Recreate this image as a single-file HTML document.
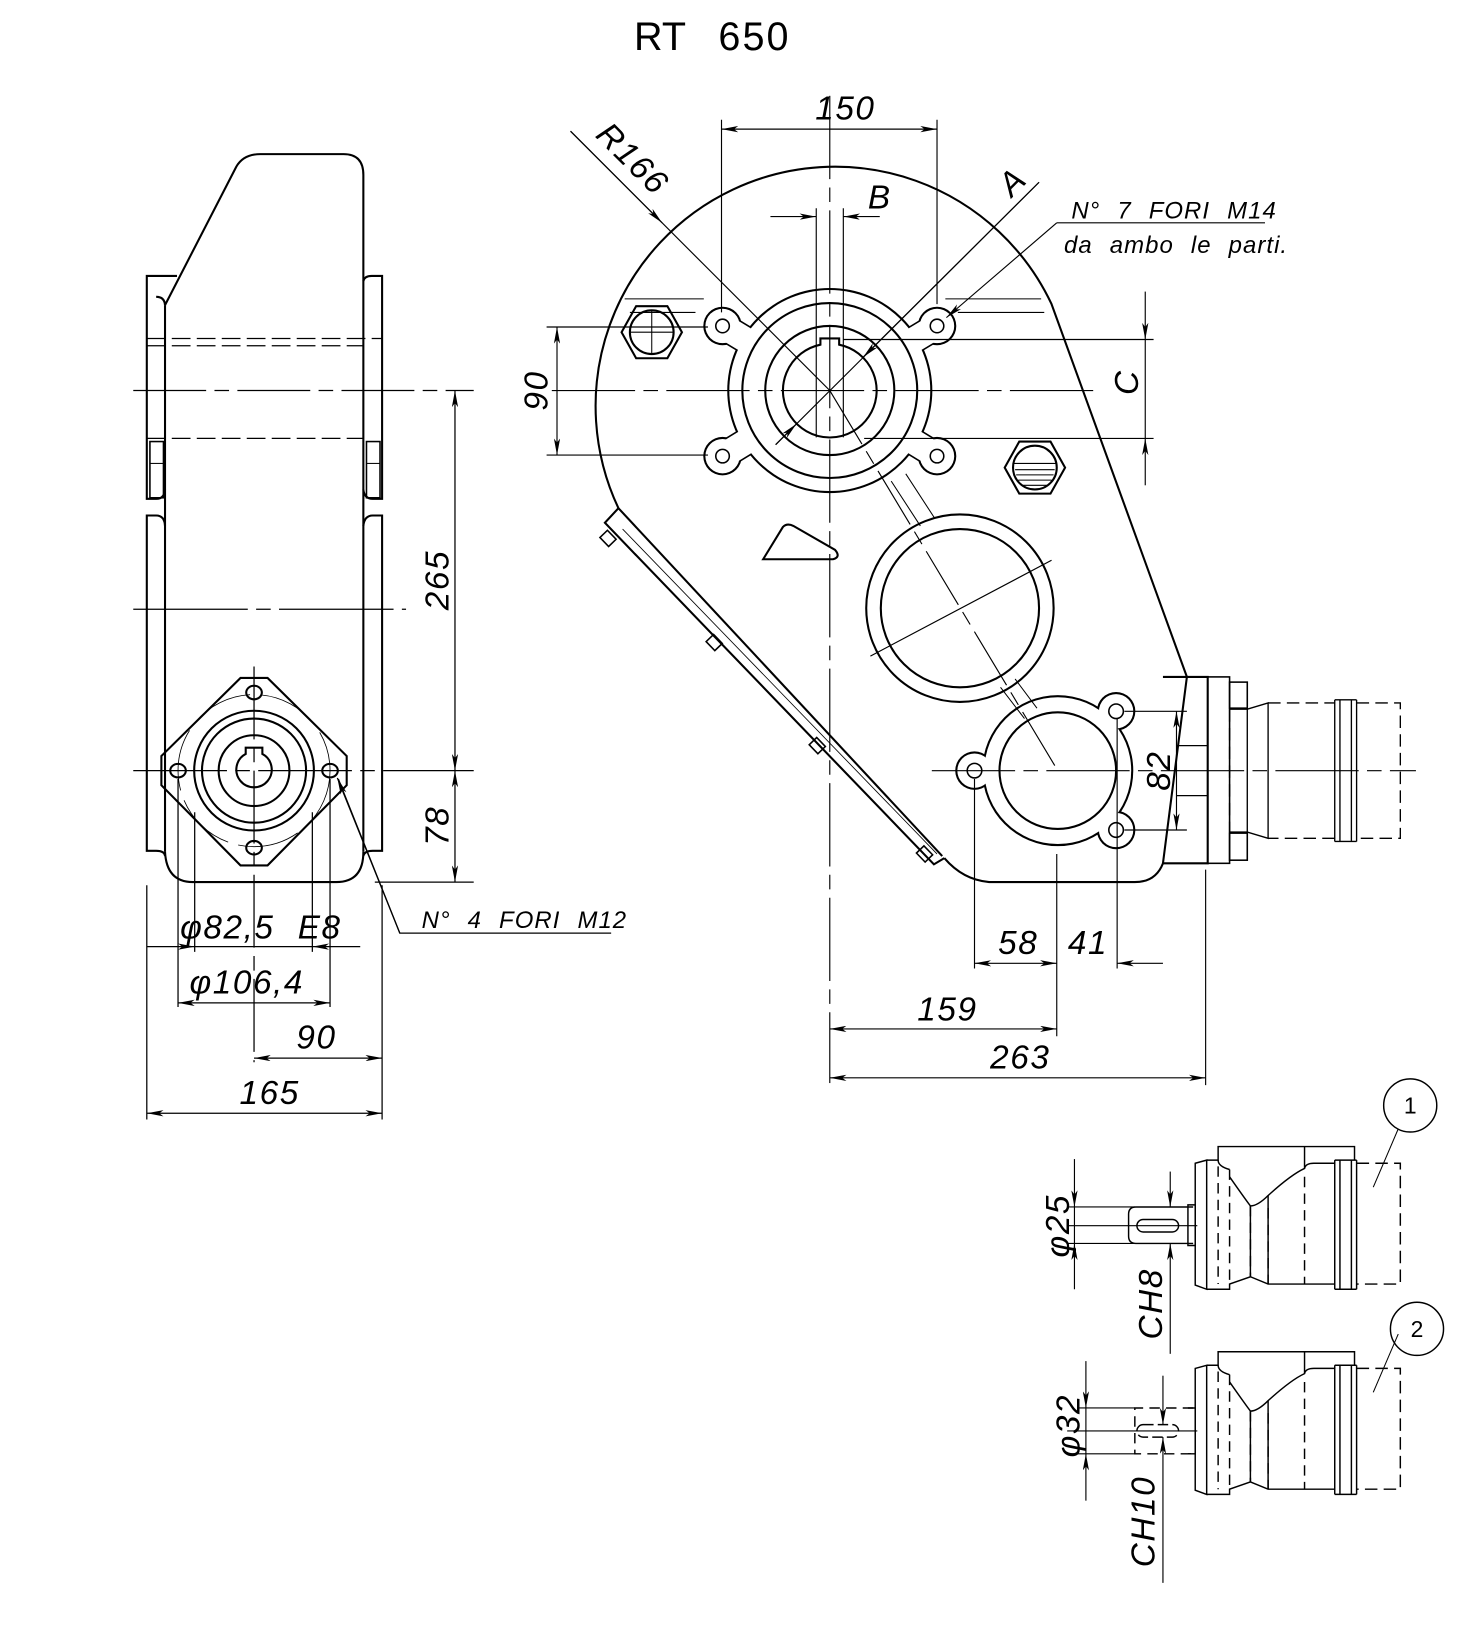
<!DOCTYPE html>
<html><head><meta charset="utf-8"><style>
html,body{margin:0;padding:0;background:#fff}
svg{display:block}
text{font-family:"Liberation Sans",sans-serif;fill:#000}
.d{font-style:italic;font-size:32px;letter-spacing:1.5px}
.s{font-style:italic;font-size:23px;word-spacing:9px;letter-spacing:1px}
</style></head><body>
<svg width="1468" height="1635" viewBox="0 0 1410 1570" preserveAspectRatio="none" xmlns="http://www.w3.org/2000/svg">
<defs>
<marker id="a" viewBox="0 0 16 6" refX="16" refY="3" markerWidth="16" markerHeight="6" markerUnits="userSpaceOnUse" orient="auto-start-reverse"><path d="M0 0 L16 3 L0 6 L4 3 Z" fill="#000"/></marker>
</defs>
<rect width="1410" height="1570" fill="#fff"/>

<text x="609" y="48" style="font-size:38px">RT</text>
<text x="690" y="48" style="font-size:38px;letter-spacing:2px">650</text>

<!-- ============ LEFT VIEW ============ -->
<g fill="none" stroke="#000" stroke-width="2">
<path d="M158.5 293 L227 160 Q234 148 250 148 L330 148 Q349 148 349 168 L349 818"/>
<path d="M158.5 293 L158.5 818"/>
<path d="M158.5 818 Q160 847 185 847 L323 847 Q349 847 349 818"/>
<path d="M170 265 L141 265 L141 479 L150 479 Q158 479 158.5 470"/>
<path d="M158.5 505 Q158 495 150 495 L141 495 L141 817 L150 817 Q158 817 158.5 822"/>
<path d="M158.5 293 Q158 285 150 285"/>
<path d="M349 270 Q350 265 357 265 L367 265 L367 479 L358 479 Q350 479 349 470"/>
<path d="M349 505 Q350 495 358 495 L367 495 L367 817 L358 817 Q350 817 349 822"/>
<rect x="144" y="424" width="13" height="54" stroke-width="1.5"/>
<rect x="352" y="424" width="13" height="54" stroke-width="1.5"/>
<line x1="144" y1="445" x2="157" y2="445" stroke-width="1"/>
<line x1="352" y1="445" x2="365" y2="445" stroke-width="1"/>
<polygon points="231,651 257,651 333,726 333,754 257,831 231,831 155,754 155,726"/>
<circle cx="244" cy="740" r="57.5"/>
<circle cx="244" cy="740" r="50"/>
<circle cx="244" cy="740" r="34"/>
<path d="M236 724 L236 718 L252 718 L252 724 A17 17 0 1 1 236 724 Z"/>
<ellipse cx="244" cy="665" rx="7.5" ry="6.5"/>
<ellipse cx="171" cy="740" rx="7.5" ry="6.5"/>
<ellipse cx="317" cy="740" rx="7.5" ry="6.5"/>
<ellipse cx="244" cy="814" rx="7.5" ry="6.5"/>
</g>
<circle cx="244" cy="740" r="73" fill="none" stroke="#000" stroke-width="0.8" stroke-dasharray="60 10"/>
<g stroke="#000" stroke-width="1.2" fill="none">
<line x1="141" y1="325" x2="367" y2="325" stroke-dasharray="18 6"/>
<line x1="141" y1="332" x2="349" y2="332" stroke-dasharray="18 6"/>
<line x1="141" y1="421" x2="349" y2="421" stroke-dasharray="18 6"/>
<line x1="349" y1="325" x2="349" y2="421" stroke-dasharray="6 3"/>
<line x1="128" y1="375" x2="455" y2="375" stroke-dasharray="70 8 14 8"/>
<line x1="128" y1="585" x2="390" y2="585" stroke-dasharray="110 8 14 8"/>
<line x1="128" y1="740" x2="455" y2="740" stroke-dasharray="90 8 14 8"/>
<line x1="244" y1="640" x2="244" y2="1020" stroke-dasharray="70 8 14 8"/>
<line x1="360" y1="847" x2="455" y2="847"/>
<line x1="141" y1="850" x2="141" y2="1075"/>
<line x1="367" y1="850" x2="367" y2="1075"/>
<line x1="171" y1="748" x2="171" y2="967"/>
<line x1="317" y1="748" x2="317" y2="967"/>
<line x1="187" y1="780" x2="187" y2="914"/>
<line x1="300" y1="780" x2="300" y2="914"/>
<line x1="437" y1="375" x2="437" y2="740" marker-start="url(#a)" marker-end="url(#a)"/>
<line x1="437" y1="740" x2="437" y2="847" marker-start="url(#a)" marker-end="url(#a)"/>
<line x1="141" y1="909" x2="187" y2="909" marker-end="url(#a)"/>
<line x1="187" y1="909" x2="300" y2="909"/>
<line x1="346" y1="909" x2="300" y2="909" marker-end="url(#a)"/>
<line x1="171" y1="963" x2="317" y2="963" marker-start="url(#a)" marker-end="url(#a)"/>
<line x1="244" y1="1016" x2="367" y2="1016" marker-start="url(#a)" marker-end="url(#a)"/>
<line x1="141" y1="1069" x2="367" y2="1069" marker-start="url(#a)" marker-end="url(#a)"/>
<polyline points="587,896 384,896 325,748" />
<line x1="384" y1="896" x2="324" y2="747" marker-end="url(#a)"/>
</g>
<text class="d" transform="translate(431,557) rotate(-90)" text-anchor="middle">265</text>
<text class="d" transform="translate(431,793) rotate(-90)" text-anchor="middle">78</text>
<text class="d" x="173" y="901" style="word-spacing:12px">φ82,5 E8</text>
<text class="d" x="182" y="954">φ106,4</text>
<text class="d" x="304" y="1007" text-anchor="middle">90</text>
<text class="d" x="259" y="1060" text-anchor="middle">165</text>
<text class="s" x="405" y="891">N° 4 FORI M12</text>

<!-- ============ RIGHT VIEW ============ -->
<g fill="none" stroke="#000" stroke-width="2">
<path d="M594 488 A228 228 0 1 1 1010 292 L1140 650 L1117 829 Q1110 847 1090 847 L950 847 Q925 845 907 824"/>
<path d="M594 488 L905 822"/>
<path d="M594 488 L581 502 L897 830 L907 824" stroke-width="2"/>
<line x1="598" y1="508" x2="900" y2="820" stroke-width="0.8"/>
<g stroke-width="1.5">
<rect x="-6" y="-5" width="12" height="10" transform="translate(584,517) rotate(46)"/>
<rect x="-6" y="-5" width="12" height="10" transform="translate(686,617) rotate(46)"/>
<rect x="-6" y="-5" width="12" height="10" transform="translate(785,716) rotate(46)"/>
<rect x="-6" y="-5" width="12" height="10" transform="translate(888,820) rotate(46)"/>
</g>
<path d="M1117 650 L1160 650 L1160 829 L1117 829"/>
<rect x="1160" y="650" width="21" height="179" stroke-width="1.5"/>
<rect x="1181" y="655" width="17" height="25" stroke-width="1.5"/>
<rect x="1181" y="800" width="17" height="26" stroke-width="1.5"/>
<line x1="1130" y1="716" x2="1160" y2="716" stroke-width="1.2"/>
<line x1="1130" y1="764" x2="1160" y2="764" stroke-width="1.2"/>
</g>
<g fill="none" stroke="#000" stroke-width="1.3">
<path d="M1181 681 L1198 681 L1218 675 L1218 805 L1198 799 L1181 799"/>
<line x1="1198" y1="681" x2="1198" y2="799"/>
<path d="M1218 675 L1282 675 M1303 675 L1345 675 L1345 805 L1303 805 M1282 805 L1218 805" stroke-dasharray="12 6"/>
<path d="M1282 672 L1303 672 M1282 808 L1303 808"/>
<line x1="1282" y1="672" x2="1282" y2="808"/><line x1="1287" y1="672" x2="1287" y2="808"/>
<line x1="1298" y1="672" x2="1298" y2="808"/><line x1="1303" y1="672" x2="1303" y2="808"/>
<line x1="1181" y1="681" x2="1181" y2="799" stroke-dasharray="12 6"/>
</g>

<g fill="#000">
<circle cx="797" cy="375" r="98.5"/>
<circle cx="694" cy="313" r="18.5"/><circle cx="900" cy="313" r="18.5"/>
<circle cx="694" cy="438" r="18.5"/><circle cx="900" cy="438" r="18.5"/>
</g>
<g stroke="#000" stroke-width="27">
<line x1="797" y1="375" x2="694" y2="313"/><line x1="797" y1="375" x2="900" y2="313"/>
<line x1="797" y1="375" x2="694" y2="438"/><line x1="797" y1="375" x2="900" y2="438"/>
</g>
<g fill="#fff">
<circle cx="797" cy="375" r="96.5"/>
<circle cx="694" cy="313" r="16.5"/><circle cx="900" cy="313" r="16.5"/>
<circle cx="694" cy="438" r="16.5"/><circle cx="900" cy="438" r="16.5"/>
</g>
<g stroke="#fff" stroke-width="24">
<line x1="797" y1="375" x2="694" y2="313"/><line x1="797" y1="375" x2="900" y2="313"/>
<line x1="797" y1="375" x2="694" y2="438"/><line x1="797" y1="375" x2="900" y2="438"/>
</g>
<g fill="#000">
<circle cx="1016" cy="740" r="72.5"/>
<circle cx="936" cy="740" r="18.5"/><circle cx="1072" cy="683" r="18.5"/><circle cx="1072" cy="797" r="18.5"/>
</g>
<g fill="#fff">
<circle cx="1016" cy="740" r="70.5"/>
<circle cx="936" cy="740" r="16.5"/><circle cx="1072" cy="683" r="16.5"/><circle cx="1072" cy="797" r="16.5"/>
</g>

<g fill="none" stroke="#000" stroke-width="2">
<circle cx="797" cy="375" r="84"/>
<circle cx="797" cy="375" r="62"/>
<path d="M788 331 L788 325 L806 325 L806 331 A45 45 0 1 1 788 331 Z"/>
<circle cx="1016" cy="740" r="56"/>
<circle cx="922" cy="584" r="90"/>
<circle cx="922" cy="584" r="76"/>
<path d="M733 537 L752 506 Q756 502 762 505 L802 528 Q808 535 800 537 Z"/>
<g stroke-width="1.5">
<circle cx="694" cy="313" r="6.5"/><circle cx="900" cy="313" r="6.5"/>
<circle cx="694" cy="438" r="6.5"/><circle cx="900" cy="438" r="6.5"/>
<circle cx="936" cy="740" r="7"/><circle cx="1072" cy="683" r="7"/><circle cx="1072" cy="797" r="7"/>
</g>
<polygon points="597,319 611,294 641,294 655,319 641,344 611,344"/>
<circle cx="626" cy="319" r="21"/>
<polygon points="965,449 979,424 1009,424 1023,449 1009,474 979,474"/>
<circle cx="994" cy="449" r="21"/>
</g>
<g stroke="#000" stroke-width="1" fill="none">
<path d="M974 445 L1014 445 M975 451 L1013 451 M976 456 L1012 456 M978 461 L1010 461 M981 466 L1007 466"/>
<line x1="626" y1="298" x2="626" y2="340"/><line x1="605" y1="319" x2="647" y2="319"/>
<line x1="600" y1="287" x2="676" y2="287"/><line x1="605" y1="300" x2="668" y2="300"/>
<line x1="908" y1="287" x2="1000" y2="287"/><line x1="920" y1="300" x2="1003" y2="300"/>
<path d="M856 462 L884 505 M870 455 L898 498" stroke-width="1"/>
<path d="M961 660 L984 690 M975 652 L996 680" stroke-width="1"/>
</g>

<g stroke="#000" stroke-width="1.1" fill="none">
<line x1="797" y1="92" x2="797" y2="1040" stroke-dasharray="80 8 14 8"/>
<line x1="530" y1="375" x2="1052" y2="375" stroke-dasharray="80 8 14 8"/>
<line x1="895" y1="740" x2="1360" y2="740" stroke-dasharray="80 8 14 8"/>
<line x1="797" y1="375" x2="1016" y2="740" stroke-dasharray="60 8 14 8"/>
<line x1="836" y1="630" x2="1010" y2="538"/>
<line x1="784" y1="200" x2="784" y2="420"/>
<line x1="810" y1="200" x2="810" y2="420"/>
<line x1="693" y1="115" x2="693" y2="300"/>
<line x1="900" y1="115" x2="900" y2="292"/>
<line x1="693" y1="124" x2="900" y2="124" marker-start="url(#a)" marker-end="url(#a)"/>
<line x1="740" y1="208" x2="784" y2="208" marker-end="url(#a)"/>
<line x1="845" y1="208" x2="810" y2="208" marker-end="url(#a)"/>
<line x1="548" y1="126" x2="797" y2="375"/>
<line x1="548" y1="126" x2="636" y2="214" marker-end="url(#a)"/>
<line x1="998" y1="175" x2="745" y2="427"/>
<line x1="998" y1="175" x2="829" y2="343" marker-end="url(#a)"/>
<line x1="745" y1="427" x2="765" y2="407" marker-end="url(#a)"/>
<line x1="1015" y1="214" x2="1215" y2="214"/>
<line x1="1015" y1="214" x2="909" y2="305" marker-end="url(#a)"/>
<line x1="525" y1="314" x2="680" y2="314"/>
<line x1="525" y1="437" x2="680" y2="437"/>
<line x1="535" y1="314" x2="535" y2="437" marker-start="url(#a)" marker-end="url(#a)"/>
<line x1="810" y1="326" x2="1108" y2="326"/>
<line x1="830" y1="421" x2="1108" y2="421"/>
<line x1="1100" y1="280" x2="1100" y2="326" marker-end="url(#a)"/>
<line x1="1100" y1="326" x2="1100" y2="421"/>
<line x1="1100" y1="466" x2="1100" y2="421" marker-end="url(#a)"/>
<line x1="1080" y1="683" x2="1140" y2="683"/>
<line x1="1080" y1="797" x2="1140" y2="797"/>
<line x1="1130" y1="683" x2="1130" y2="797" marker-start="url(#a)" marker-end="url(#a)"/>
<line x1="936" y1="748" x2="936" y2="930"/>
<line x1="1073" y1="690" x2="1073" y2="930"/>
<line x1="1015" y1="820" x2="1015" y2="995"/>
<line x1="1158" y1="835" x2="1158" y2="1042"/>
<line x1="936" y1="925" x2="1015" y2="925" marker-start="url(#a)" marker-end="url(#a)"/>
<line x1="1117" y1="925" x2="1073" y2="925" marker-end="url(#a)"/>
<line x1="797" y1="988" x2="1015" y2="988" marker-start="url(#a)" marker-end="url(#a)"/>
<line x1="797" y1="1035" x2="1158" y2="1035" marker-start="url(#a)" marker-end="url(#a)"/>
</g>
<text class="d" x="812" y="115" text-anchor="middle">150</text>
<text class="d" x="845" y="200" text-anchor="middle">B</text>
<text class="d" transform="translate(600,160) rotate(45)" text-anchor="middle">R166</text>
<text class="d" transform="translate(980,182) rotate(-45)" text-anchor="middle">A</text>
<text class="s" x="1029" y="210">N° 7 FORI M14</text>
<text class="s" x="1022" y="243">da ambo le parti.</text>
<text class="d" transform="translate(526,375) rotate(-90)" text-anchor="middle">90</text>
<text class="d" transform="translate(1093,367) rotate(-90)" text-anchor="middle">C</text>
<text class="d" transform="translate(1124,740) rotate(-90)" text-anchor="middle">82</text>
<text class="d" x="978" y="916" text-anchor="middle">58</text>
<text class="d" x="1045" y="916" text-anchor="middle">41</text>
<text class="d" x="910" y="980" text-anchor="middle">159</text>
<text class="d" x="980" y="1026" text-anchor="middle">263</text>

<g id="p" fill="none" stroke="#000" stroke-width="1.4">
<path d="M1148 1117 L1159 1114 L1159 1238 L1148 1234 Z"/>
<path d="M1159 1114 L1170 1114 L1170 1101 L1301 1101 L1301 1114"/>
<path d="M1170 1114 Q1170 1120 1181 1123"/>
<path d="M1181 1130 Q1195 1150 1201 1158 Q1208 1158 1218 1148 Q1240 1128 1253 1122 Q1254 1117 1262 1117 L1282 1117"/>
<line x1="1253" y1="1101" x2="1253" y2="1122"/>
<path d="M1159 1238 L1181 1238 L1181 1233 L1201 1226 L1218 1233 L1282 1233"/>
<line x1="1201" y1="1158" x2="1201" y2="1226"/>
<line x1="1218" y1="1148" x2="1218" y2="1233"/>
<line x1="1282" y1="1114" x2="1282" y2="1238"/><line x1="1287" y1="1114" x2="1287" y2="1238"/>
<line x1="1298" y1="1114" x2="1298" y2="1238"/><line x1="1303" y1="1114" x2="1303" y2="1238"/>
<path d="M1282 1114 L1303 1114 M1282 1238 L1303 1238"/>
<path d="M1303 1117 L1345 1117 L1345 1233 L1303 1233" stroke-dasharray="12 6"/>
<line x1="1170" y1="1120" x2="1170" y2="1233" stroke-dasharray="10 6"/>
<line x1="1181" y1="1123" x2="1181" y2="1233" stroke-dasharray="10 6"/>
<line x1="1201" y1="1158" x2="1201" y2="1226" stroke-dasharray="10 6"/>
<line x1="1218" y1="1160" x2="1218" y2="1233" stroke-dasharray="10 6"/>
<line x1="1253" y1="1130" x2="1253" y2="1233" stroke-dasharray="10 6"/>
<line x1="1343" y1="1084" x2="1319" y2="1140" stroke-width="1"/>
</g>
<use href="#p" transform="translate(0,197)"/>
<g fill="none" stroke="#000" stroke-width="1.4">
<circle cx="1354.5" cy="1061.5" r="25.5"/>
<circle cx="1361" cy="1276" r="25.5"/>
<path d="M1146 1159 L1091 1159 Q1084 1159 1084 1166 L1084 1187 Q1084 1194 1091 1194 L1146 1194"/>
<path d="M1141 1157 L1148 1157 L1148 1196 L1141 1196 Z"/>
<rect x="1092" y="1171" width="40" height="12" rx="6"/>
<path d="M1146 1352 L1090 1352 L1090 1396 L1146 1396" stroke-dasharray="10 6"/>
<rect x="1092" y="1368" width="40" height="12" rx="6" stroke-dasharray="10 4"/>
<path d="M1141 1352 L1148 1352 L1148 1396 L1141 1396" />
</g>
<g stroke="#000" stroke-width="1.1">
<line x1="1025" y1="1177" x2="1150" y2="1177"/>
<line x1="1025" y1="1374" x2="1150" y2="1374"/>
<line x1="1025" y1="1159" x2="1090" y2="1159"/>
<line x1="1025" y1="1194" x2="1090" y2="1194"/>
<line x1="1032" y1="1113" x2="1032" y2="1159" marker-end="url(#a)"/>
<line x1="1032" y1="1159" x2="1032" y2="1194"/>
<line x1="1032" y1="1238" x2="1032" y2="1194" marker-end="url(#a)"/>
<line x1="1124" y1="1125" x2="1124" y2="1159" marker-end="url(#a)"/>
<line x1="1124" y1="1300" x2="1124" y2="1194" marker-end="url(#a)"/>
<line x1="1035" y1="1352" x2="1090" y2="1352"/>
<line x1="1035" y1="1396" x2="1090" y2="1396"/>
<line x1="1043" y1="1307" x2="1043" y2="1352" marker-end="url(#a)"/>
<line x1="1043" y1="1352" x2="1043" y2="1396"/>
<line x1="1043" y1="1441" x2="1043" y2="1396" marker-end="url(#a)"/>
<line x1="1117" y1="1321" x2="1117" y2="1368" marker-end="url(#a)"/>
<line x1="1117" y1="1520" x2="1117" y2="1380" marker-end="url(#a)"/>
</g>
<text class="d" transform="translate(1027,1177) rotate(-90)" text-anchor="middle">φ25</text>
<text class="d" transform="translate(1116,1252) rotate(-90)" text-anchor="middle">CH8</text>
<text class="d" transform="translate(1037,1369) rotate(-90)" text-anchor="middle">φ32</text>
<text class="d" transform="translate(1109,1461) rotate(-90)" text-anchor="middle">CH10</text>
<text x="1354.5" y="1069" text-anchor="middle" style="font-size:22px">1</text>
<text x="1361" y="1284" text-anchor="middle" style="font-size:22px">2</text>
</svg>
</body></html>
